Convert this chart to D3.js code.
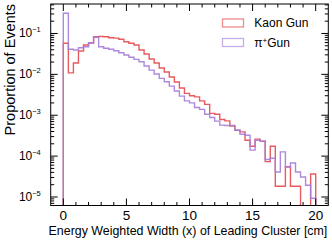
<!DOCTYPE html>
<html>
<head>
<meta charset="utf-8">
<script src="https://cdn.jsdelivr.net/npm/d3@7"></script>
<style>
  body { margin: 0; background: #fff; }
  text { font-family: "Liberation Sans", Arial, sans-serif; fill: #000; }
</style>
</head>
<body>
<svg id="chart" width="332" height="242"></svg>
<script>
// histogram binning (cm)
var binStart = 0;
var binWidth = 0.4;

// proportion of events per bin
var kaonGun = [0.0575, 0.0109, 0.0189, 0.0372, 0.0522, 0.0585, 0.0835, 0.0844, 0.0835, 0.0789,
	0.0770, 0.0721, 0.0630, 0.0575, 0.0522, 0.0394, 0.0314, 0.0237, 0.0189, 0.0143,
	0.0114, 0.0086, 0.00648, 0.00462, 0.00342, 0.00299, 0.00282, 0.00225, 0.00184, 0.00111,
	0.00106, 0.000789, 0.000729, 0.000541, 0.000431, 0.000392, 0.000245, 0.000175, 0.000260, 0.000233,
	0.0000732, 0.000175, 0.0000183, 0.0000183, 0.0000549, 0.0000183, 0.0000183, 0, 0, 0.0000366];

var pionGun = [0.313, 0.0410, 0.0394, 0.0449, 0.0475, 0.0595, 0.0807, 0.0475, 0.0434, 0.0410,
	0.0379, 0.0338, 0.0297, 0.0261, 0.0233, 0.0204, 0.0160, 0.0127, 0.0102, 0.00798,
	0.00659, 0.00516, 0.00390, 0.00294, 0.00225, 0.00201, 0.00155, 0.00139, 0.00106, 0.000883,
	0.000716, 0.000572, 0.000560, 0.000565, 0.000431, 0.000344, 0.000325, 0.000140, 0.000245, 0.000233,
	0.0000826, 0.0000889, 0.0000410, 0.000127, 0.0000543, 0.0000680, 0.0000410, 0.0000309, 0.0000194, 0.0000093];

var seriesNames = ["Kaon Gun", "\u03c0+Gun"];
var seriesColors = ["#e5484d", "#a47cd9"];
var legendColors = ["#ee8a8c", "#c7aee8"];

var xTicks = [0, 5, 10, 15, 20];
var yDecades = [-5, -4, -3, -2, -1];

var svg = d3.select("#chart");
var L = 50.7, R = 328.3, T = 4, B = 205.5;

var x = d3.scaleLinear().domain([-1, 21]).range([L, R]);
var y = d3.scaleLog().domain([Math.pow(10, -5.208), Math.pow(10, -0.279)]).range([B, T]);

svg.append("clipPath").attr("id", "plotClip")
	.append("rect").attr("x", L).attr("y", T).attr("width", R - L).attr("height", B - T);

// step outline like ROOT hist
function stepPoints(vals) {
	var pts = [];
	var low = B + 5;
	pts.push([x(binStart), low]);
	vals.forEach(function(v, i) {
		var yy = v > 0 ? y(v) : low;
		pts.push([x(binStart + i * binWidth), yy]);
		pts.push([x(binStart + (i + 1) * binWidth), yy]);
	});
	pts.push([x(binStart + vals.length * binWidth), low]);
	return pts;
}

var line = d3.line();
var plot = svg.append("g").attr("clip-path", "url(#plotClip)");
[kaonGun, pionGun].forEach(function(vals, k) {
	plot.append("path")
		.attr("d", line(stepPoints(vals)))
		.attr("fill", "none")
		.attr("stroke", seriesColors[k])
		.attr("stroke-width", 1.4)
		.attr("stroke-opacity", 0.9);
});

// frame
svg.append("rect")
	.attr("x", L).attr("y", T).attr("width", R - L).attr("height", B - T)
	.attr("fill", "none").attr("stroke", "#000").attr("stroke-width", 1);

var ticks = svg.append("g").attr("stroke", "#000").attr("stroke-width", 1);
// x ticks (bottom + top)
for (var t = 0; t <= 20; t++) {
	var len = (t % 5 === 0) ? 7 : 3.5;
	var px = x(t);
	ticks.append("line").attr("x1", px).attr("x2", px).attr("y1", B).attr("y2", B - len);
	ticks.append("line").attr("x1", px).attr("x2", px).attr("y1", T).attr("y2", T + len);
}
// y ticks (left + right)
for (var d = -6; d <= 0; d++) {
	for (var m = 1; m <= 9; m++) {
		var v = m * Math.pow(10, d);
		if (v < y.domain()[0] || v > y.domain()[1]) continue;
		var ll = (m === 1) ? 7 : 3.5;
		var py = y(v);
		ticks.append("line").attr("x1", L).attr("x2", L + ll).attr("y1", py).attr("y2", py);
		ticks.append("line").attr("x1", R).attr("x2", R - ll).attr("y1", py).attr("y2", py);
	}
}

// tick labels
svg.append("g").selectAll("text").data(xTicks).enter().append("text")
	.attr("x", function(d) { return x(d); })
	.attr("y", 219.5)
	.attr("text-anchor", "middle")
	.style("font-size", "13.5px")
	.text(function(d) { return d; });

var yl = svg.append("g").selectAll("text").data(yDecades).enter().append("text")
	.attr("x", 40.8)
	.attr("y", function(d) { return y(Math.pow(10, d)) + 4; })
	.attr("text-anchor", "end")
	.style("font-size", "12px");
yl.append("tspan").text("10");
yl.append("tspan").attr("dy", -5).style("font-size", "7.5px")
	.text(function(d) { return "\u2212" + Math.abs(d); });

// axis titles
svg.append("text")
	.attr("x", R - 1).attr("y", 235)
	.attr("text-anchor", "end")
	.style("font-size", "12.4px")
	.text("Energy Weighted Width (x) of Leading Cluster [cm]");

svg.append("text")
	.attr("transform", "translate(14.5," + T + ") rotate(-90)")
	.attr("text-anchor", "end")
	.style("font-size", "14.5px")
	.text("Proportion of Events");

// legend
var leg = svg.append("g");
seriesNames.forEach(function(name, k) {
	var ly = 19 + k * 19.5;
	leg.append("rect")
		.attr("x", 222.5).attr("y", ly).attr("width", 21).attr("height", 8)
		.attr("fill", "#fff").attr("stroke", legendColors[k]).attr("stroke-width", 1.3);
	var tx = leg.append("text").attr("x", 254.3).attr("y", ly + 8.3).style("font-size", "12px");
	if (k === 0) {
		tx.text(name);
	} else {
		tx.append("tspan").text("\u03c0");
		tx.append("tspan").attr("dy", -4).style("font-size", "8px").text("+");
		tx.append("tspan").attr("dy", 4).text("Gun");
	}
});
</script>
</body>
</html>
